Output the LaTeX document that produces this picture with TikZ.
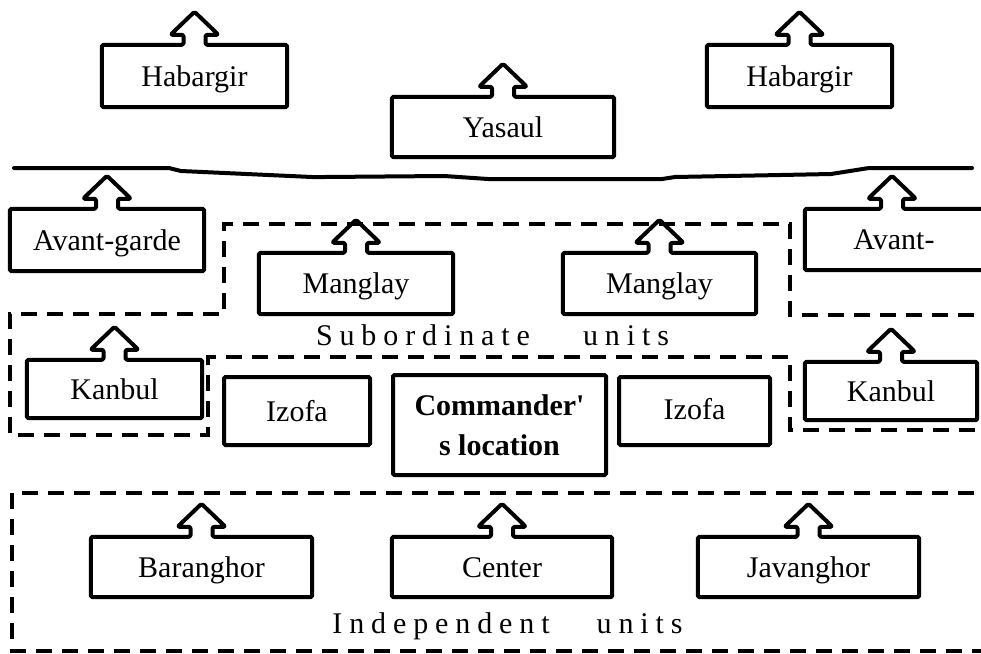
\documentclass[tikz,border=0pt]{standalone}
\usepackage{fontspec}
\setmainfont{Liberation Serif}
\usetikzlibrary{calc}
\newcommand\lsp{\kern6.9pt}
\newcommand\upbox[2]{%
  \draw[outl] (#1.south west) -- (#1.north west) -- ($(#1.north)+(#2-11,0)$)
    -- ++(0,-10) -- ++(-13,0) -- ++(24,-23) -- ++(24,23) -- ++(-13,0) -- ++(0,10)
    -- (#1.north east) -- (#1.south east) -- cycle;}
\tikzset{
  lbl/.style={font=\fontsize{30}{40}\selectfont, inner sep=0pt},
  unit/.style={lbl, align=center, text height=22pt, text depth=2pt},
  outl/.style={line width=4pt, line join=round, rounded corners=1.5pt},
  plainbox/.style={lbl, align=center, draw, line width=4pt, rounded corners=1.5pt},
  dashln/.style={line width=3.5pt, dash pattern=on 16pt off 10pt},
  wave/.style={line width=4pt, line cap=round, line join=round}
}
\begin{document}
\begin{tikzpicture}[x=1pt,y=-1pt]
\clip (0,0) rectangle (981,653);
\fill[white] (0,0) rectangle (981,653);

% top row
\node[unit, minimum width=185pt, minimum height=62pt] (hab1) at (194.5,76) {Habargir};
\node[unit, minimum width=185pt, minimum height=62pt] (hab2) at (799.5,76) {Habargir};
\node[unit, minimum width=222pt, minimum height=60pt] (yas) at (503,127) {Yasaul};
\upbox{hab1}{0}
\upbox{hab2}{0}
\upbox{yas}{0}

% wavy line
\draw[wave] (14,168) -- (169,168) -- (181,171) -- (312,177) -- (325,177) -- (444,176)
  -- (488,179) -- (662,179) -- (675,177) -- (781,175) -- (831,174) -- (869,168) -- (972,168);

% avant-garde
\node[unit, minimum width=194pt, minimum height=62pt] (avg1) at (107,240) {Avant-garde};
\node[unit, minimum width=190pt, minimum height=61pt, text width=190pt] (avg2) at (900,239.5) {\hspace*{-12pt}Avant-};
\upbox{avg1}{0}
\upbox{avg2}{-8}

% subordinate region
\draw[dashln] (1000,315) -- (790,315) -- (790,224) -- (224,224) -- (224,314) -- (10,314)
  -- (10,435) -- (208,435) -- (208,357) -- (790,357) -- (790,430) -- (1000,430);

\node[unit, minimum width=194pt, minimum height=61pt] (man1) at (356,283.5) {Manglay};
\node[unit, minimum width=193pt, minimum height=61pt] (man2) at (659.5,283.5) {Manglay};
\upbox{man1}{0}
\upbox{man2}{0}

\node[lbl, anchor=base] (sub) at (492.5,345) {S\lsp u\lsp b\lsp o\lsp r\lsp d\lsp i\lsp n\lsp a\lsp t\lsp e\kern53pt u\lsp n\lsp i\lsp t\lsp s};

\node[unit, minimum width=175pt, minimum height=58pt] (kan1) at (114.5,389) {Kanbul};
\node[unit, minimum width=172pt, minimum height=58pt] (kan2) at (891,391) {Kanbul};
\upbox{kan1}{0}
\upbox{kan2}{0}

% center row
\node[plainbox, text height=22pt, text depth=2pt, minimum width=146pt, minimum height=68pt] (izo1) at (297,411) {Izofa};
\node[plainbox, minimum width=213pt, minimum height=100pt, font=\fontsize{30}{40}\selectfont\bfseries] (cmd) at (499.5,425) {Commander\textquotesingle\\s location};
\node[plainbox, text height=22pt, text depth=2pt, minimum width=151pt, minimum height=68pt] (izo2) at (694.5,411) {\raisebox{2pt}{Izofa}};

% independent region
\draw[dashln] (1000,493) -- (12,493) -- (12,651) -- (1000,651);

\node[unit, minimum width=221pt, minimum height=60pt] (bar) at (201.5,567) {Baranghor};
\node[unit, minimum width=220pt, minimum height=60pt] (cen) at (502,567) {Center};
\node[unit, minimum width=221pt, minimum height=60pt] (jav) at (808.5,567) {Javanghor};
\upbox{bar}{0}
\upbox{cen}{0}
\upbox{jav}{0}

\node[lbl, anchor=base] (ind) at (507.5,633) {I\lsp n\lsp d\lsp e\lsp p\lsp e\lsp n\lsp d\lsp e\lsp n\lsp t\kern47pt u\lsp n\lsp i\lsp t\lsp s};
\end{tikzpicture}
\end{document}
